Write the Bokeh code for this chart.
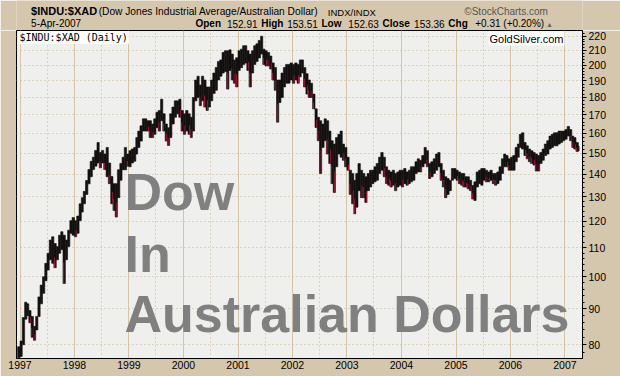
import numpy as np
import pandas as pd
from bokeh.plotting import figure
from bokeh.layouts import column
from bokeh.models import (Range1d, FixedTicker, PrintfTickFormatter, DatetimeTickFormatter,
                          Label, ColumnDataSource)
from bokeh.embed import file_html
from bokeh.resources import INLINE

# ---------------- data: half-monthly high / low of $INDU:$XAD ----------------
first_period = (1996, 12, 1)      # (year, month, half) ; half 0 = 1st-15th, 1 = 16th-end
last_day = "2007-04-06"

high = [
    79.5,
    # 1997
    81, 87.5, 92, 91.5, 89.5, 87.8, 85, 87.8, 93.6, 97.3, 100, 104.5,
    108, 112.8, 114, 111.5, 110.4, 114.6, 115.9, 114.6, 112.8, 116.5, 120.2, 121.4,
    # 1998
    120.2, 122, 127, 129.6, 132.3, 137.1, 142.1, 146, 148, 151.3, 155.3, 150.3,
    151.3, 149.5, 152.8, 145.2, 138.9, 135.7, 135.7, 142, 145, 148, 152.8, 149.5,
    # 1999
    151.2, 152, 152.8, 157.8, 161.2, 164, 167.8, 167.8, 166.8, 166.8, 165, 167.8,
    171.5, 172.5, 179, 170.6, 165, 163, 170.6, 174.4, 178, 178, 179, 172.5,
    # 2000
    170.6, 172.5, 170.6, 168.7, 180, 190.6, 193, 187.5, 193, 190.6, 186.3, 186.3,
    190.6, 195, 198.6, 202.6, 203.6, 208.6, 209.8, 209.8, 210.4, 207.5, 203.6, 205,
    # 2001
    209.8, 210.9, 213.3, 213.3, 209.8, 207.5, 209.8, 213.3, 214.6, 217, 220, 210.9,
    209.8, 208.6, 206.2, 201.6, 198.6, 190.6, 190.6, 195, 198.6, 200.6, 200.6, 201.6,
    # 2002
    200.6, 201.6, 200.6, 203.6, 203.6, 198.6, 194.6, 190.6, 188.6, 182, 173.4, 168.7,
    166.8, 165, 167.8, 166.8, 161.2, 156.2, 154.5, 157.8, 159.5, 161.2, 154.5, 152.8,
    # 2003
    148, 141.8, 140.3, 137.2, 140.3, 144.9, 141.8, 140.3, 138.8, 140.3, 141.8, 141.8,
    143.4, 145, 148, 150.3, 148, 143.4, 141.8, 141, 141.8, 140.3, 141, 141.8,
    # 2004
    141.8, 142.6, 141, 141.8, 143.4, 143.4, 145.8, 147.2, 146.5, 148.8, 152.8, 151.2,
    145, 145.8, 147.2, 149.5, 150.3, 145, 141.8, 138.8, 138, 137.2, 142.6, 142.6,
    # 2005
    141.8, 141, 140.3, 140.3, 138.8, 138.8, 137.2, 134.9, 136.5, 141, 141.8, 142.6,
    142.6, 141.8, 141, 141.8, 140.3, 140.3, 141, 143.4, 147.2, 149.5, 148.8, 147.2,
    # 2006
    148, 148.8, 152.8, 154.5, 159.5, 160.3, 155.3, 153.6, 152, 151.2, 150.3, 149.5,
    148.8, 150.3, 152, 154.5, 156.2, 158.6, 159.5, 160.3, 160.3, 161.2, 161.2, 161.2,
    # 2007
    162, 163.7, 162, 158.6, 157.8, 155.3, 153.6,
]

low = [
    76.7,
    # 1997
    77, 80, 87, 88, 86, 82, 81.2, 84, 87.8, 91.5, 94.7, 98.7,
    102.2, 105.7, 104.5, 103, 105.7, 108, 109.3, 97.8, 105.7, 110.4, 115.3, 114.6,
    # 1998
    114, 115.3, 120.2, 123.6, 127, 131, 135.6, 138.8, 142.1, 143.7, 145.2, 142.9,
    145.2, 142.1, 138.8, 135.7, 127, 124.3, 121.6, 129.6, 137.2, 142, 142, 143.7,
    # 1999
    143.4, 145.2, 146, 149.5, 152.8, 156, 161.2, 161.2, 161.2, 157.8, 157.8, 159.5,
    163, 161.2, 166.8, 161.2, 156, 153.8, 157.8, 165, 168.7, 170.6, 168.7, 161.2,
    # 2000
    159.5, 161.2, 159.5, 157.8, 161.2, 178, 180, 175.2, 178, 174.4, 172.5, 174.4,
    178, 182.4, 184.3, 190.6, 193, 195, 196, 185, 196.7, 190.6, 188.6, 186.3,
    # 2001
    196.7, 198.5, 200.6, 201.5, 196.7, 186.3, 195, 200.6, 202.6, 204.9, 207.5, 200.6,
    199.6, 199.6, 197.6, 190.6, 184.3, 166, 177, 180, 186.3, 188.6, 188.6, 190.6,
    # 2002
    188.6, 190.6, 188.6, 192.6, 195, 186.3, 182, 180, 180, 173.4, 163.1, 156.2,
    140.3, 152.8, 156.2, 149.5, 145, 135.7, 131.8, 143.4, 149.5, 148, 146.5, 143.4,
    # 2003
    141.8, 131, 127, 122.9, 125.6, 132.6, 129.6, 129.6, 127.6, 132.6, 134.2, 135.7,
    136.5, 137.2, 140.3, 141.8, 138.8, 135.7, 135, 134.2, 135, 132.6, 134.2, 135,
    # 2004
    134.2, 135.7, 135, 135.7, 136.5, 137.2, 140.3, 141, 141, 143.4, 145, 143.4,
    138, 138.8, 140.3, 141.8, 143.4, 137.2, 134.2, 129.6, 131, 132.6, 137.2, 138,
    # 2005
    137.2, 135.7, 135, 134.2, 134.2, 133.4, 132.6, 129, 128.4, 134.2, 135.7, 135,
    137.2, 136.5, 136.5, 137.2, 135.7, 135, 135.7, 137.2, 140.3, 143.4, 143.4, 141.8,
    # 2006
    141.8, 141.8, 145.8, 148, 152.8, 152, 148.8, 147.2, 145.8, 145, 144.2, 141.4,
    141.4, 145, 146.5, 148.8, 149.5, 152, 152.8, 153.6, 153.6, 154.5, 155.3, 156.2,
    # 2007
    157, 158.6, 156.2, 152.8, 152, 150.8, 151.2,
]

years = list(range(1997, 2008))
y_ticks = list(range(80, 230, 10))
y_minor = [v for v in range(78, 224, 2) if v % 10 != 0]

title_sym = "$INDU:$XAD"
title_desc = "(Dow Jones Industrial Average/Australian Dollar)"
title_exch = "INDX/INDX"
quote_date = "5-Apr-2007"
quote_fields = [("Open", "152.91"), ("High", "153.51"), ("Low", "152.63"),
                ("Close", "153.36"), ("Chg", "+0.31 (+0.20%)")]
big_lines = ["Dow", "In", "Australian Dollars"]

# ---------------- colours / fonts ----------------
TAN = "#D5C7AD"
PLOT_BG = "#EFEFEE"
GRID_SOLID = "#D5C5A8"
GRID_DOT = "#C8B592"
BAR_BLACK = "#141010"
BAR_RED = "#DC1040"
FONT = "Liberation Sans"
HEADER_H = 30

# ---------------- build periods ----------------
starts = []
y, m, h = first_period
for _ in range(len(high)):
    starts.append(pd.Timestamp(y, m, 1 if h == 0 else 16))
    h += 1
    if h == 2:
        h = 0
        m += 1
        if m == 13:
            m = 1
            y += 1
ends = starts[1:] + [pd.Timestamp(last_day)]
centers = [s + (e - s) / 2 for s, e in zip(starts, ends)]
widths = [(e - s).total_seconds() * 1000.0 for s, e in zip(starts, ends)]

hi = np.array(high, dtype=float)
lo = np.array(low, dtype=float)
mid = (hi + lo) / 2
down = np.r_[False, mid[1:] < mid[:-1]]

src = ColumnDataSource(dict(x=centers, top=hi, bottom=lo, w=widths))
red_idx = [i for i in range(len(hi)) if down[i]]
red_src = ColumnDataSource(dict(
    x=[centers[i] + pd.Timedelta(days=(3 if i % 2 else -3)) for i in red_idx],
    top=[lo[i] + 0.42 * (hi[i] - lo[i]) for i in red_idx],
    bottom=[lo[i] for i in red_idx],
    w=[widths[i] * 0.3 for i in red_idx],
))

# ---------------- page-pixel helpers (main frame: x 16..582, y 30..358 of the page) ----------------
T1997 = pd.Timestamp("1997-01-01")


def tx(px):
    return (T1997 + pd.Timedelta(days=(px - 19.5) / 54.5 * 365.25)).value / 1e6


def vy(py):
    return 80.0 * np.exp((344.3 - py) / 305.0)


# ---------------- header strip ----------------
hdr = figure(width=620, height=HEADER_H, x_range=Range1d(0, 620), y_range=Range1d(HEADER_H, 0),
             x_axis_location=None, y_axis_location=None, output_backend="svg",
             toolbar_location=None, min_border=0, background_fill_color=TAN,
             border_fill_color=TAN, outline_line_color=None)
hdr.grid.visible = False

BASE_SHIFT = 0.42  # em correction between requested and rendered alphabetic baseline


def hdr_label(px, py, text, size, bold=False, color="black", align="left"):
    s = float(size.replace("px", ""))
    hdr.add_layout(Label(x=px, y=py - BASE_SHIFT * s, text=text, text_font=FONT,
                         text_font_size=size, text_font_style="bold" if bold else "normal",
                         text_color=color, text_baseline="alphabetic", text_align=align))


hdr_label(16, 15.5, title_sym, "11px", bold=True)
hdr_label(90, 15.5, title_desc, "10.2px")
hdr_label(341, 15.5, title_exch, "9.5px")
hdr_label(582, 15, "\u00a9StockCharts.com", "10px", color="#555555", align="right")

hdr_label(16, 27.5, quote_date, "10px")
label_x = [196, 268, 334, 401, 473]
value_right = [264, 330, 397, 469, 578]
for (lab_txt, val_txt), xl, xr in zip(quote_fields, label_x, value_right):
    hdr_label(xl, 27.5, lab_txt, "10px", bold=True)
    hdr_label(xr, 27.5, val_txt, "10px", align="right")
hdr_label(580, 27, "\u25b2", "7px", color="#666666")

# ---------------- main chart ----------------
p = figure(width=620, height=376 - HEADER_H, x_axis_type="datetime", y_axis_type="log",
           y_axis_location="right", output_backend="svg", toolbar_location=None,
           min_border_left=16, min_border_right=38, min_border_top=0, min_border_bottom=18,
           x_range=Range1d(tx(16), tx(582)), y_range=Range1d(vy(358), vy(30)),
           background_fill_color=PLOT_BG, border_fill_color=TAN)
p.outline_line_color = "black"
p.outline_line_width = 1

year_ms = [pd.Timestamp(f"{yy}-01-01").value / 1e6 for yy in years]
mid_ms = [pd.Timestamp(f"{yy}-07-01").value / 1e6 for yy in range(1996, 2008)]

xa = p.xaxis[0]
xa.ticker = FixedTicker(ticks=year_ms, minor_ticks=mid_ms)
xa.formatter = DatetimeTickFormatter(years="%Y", months="%Y", days="%Y", hours="%Y")
xa.major_tick_out = 0
xa.major_tick_in = 0
xa.minor_tick_out = 0
xa.minor_tick_in = 0
xa.major_label_standoff = 2
xa.major_label_text_font = FONT
xa.major_label_text_font_size = "10.5px"
xa.major_label_text_color = "black"
xa.axis_line_color = "black"

ya = p.yaxis[0]
ya.ticker = FixedTicker(ticks=y_ticks, minor_ticks=y_minor)
ya.formatter = PrintfTickFormatter(format="%d")
ya.major_tick_out = 4
ya.major_tick_in = 0
ya.minor_tick_out = 2
ya.minor_tick_in = 0
ya.major_label_standoff = 2
ya.major_label_text_font = FONT
ya.major_label_text_font_size = "10.5px"
ya.major_label_text_color = "black"
ya.axis_line_color = "black"

p.xgrid.grid_line_color = GRID_SOLID
p.xgrid.grid_line_width = 1
p.xgrid.minor_grid_line_color = GRID_DOT
p.xgrid.minor_grid_line_dash = "1 3"
p.ygrid.grid_line_color = GRID_DOT
p.ygrid.grid_line_dash = "1 3"

p.vbar(x="x", width="w", top="top", bottom="bottom", source=src,
       fill_color=BAR_BLACK, line_color=BAR_BLACK, line_width=0.6)
p.vbar(x="x", width="w", top="top", bottom="bottom", source=red_src,
       fill_color=BAR_RED, line_color=None)


def add_label(px, py, text, size, bold=False, color="black", font=FONT,
              baseline="alphabetic", bg=None):
    s = float(size.replace("px", ""))
    yy = py - BASE_SHIFT * s if baseline == "alphabetic" else py
    lab = Label(x=tx(px), y=vy(yy), text=text, text_font=font, text_font_size=size,
                text_font_style="bold" if bold else "normal", text_color=color,
                text_baseline=baseline, text_align="left")
    if bg is not None:
        lab.background_fill_color = bg
        lab.padding = 1
    p.add_layout(lab)


add_label(18, 30.5, title_sym + " (Daily)", "10px", font="DejaVu Sans Mono",
          baseline="top", bg="white")
add_label(488, 31, "GoldSilver.com", "11px", baseline="top", bg="white")

for txt, base in zip(big_lines, [213, 275, 335]):
    add_label(124, base, txt, "52px", bold=True, color="#808080")

open("out.html", "w").write(file_html(column(hdr, p, spacing=0), INLINE))
